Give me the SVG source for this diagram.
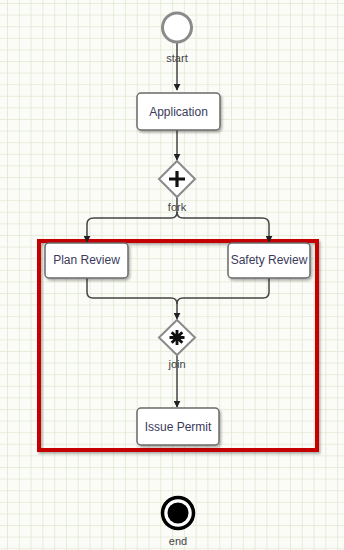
<svg xmlns="http://www.w3.org/2000/svg" width="344" height="550" viewBox="0 0 344 550">
<style>
.node rect{fill:#ffffff;stroke:#6a6a6a;stroke-width:1.5;filter:url(#sh)}
.node text{font-family:"Liberation Sans",Arial,sans-serif;font-size:12px;fill:#3a3a5a;text-anchor:middle}
.lbl{font-family:"Liberation Sans",Arial,sans-serif;font-size:11px;fill:#444;text-anchor:middle}
.conn{fill:none;stroke:#444;stroke-width:1.5}
.gw{fill:#fff;stroke:#8a8a8a;stroke-width:2}
</style>
<defs>
<pattern id="grid" patternUnits="userSpaceOnUse" x="7" y="3" width="11.79" height="11.6">
<rect width="11.79" height="11.6" fill="#fbfcf7"/>
<path d="M0 0V11.6M0 0H11.79" stroke="#e1e8d2" stroke-width="1.6" fill="none"/>
</pattern>
<marker id="arr" viewBox="0 0 10 10" refX="9" refY="5" markerWidth="7" markerHeight="7" markerUnits="userSpaceOnUse" orient="auto">
<path d="M0 0L10 5L0 10z" fill="#222"/>
</marker>
<filter id="sh" x="-20%" y="-20%" width="140%" height="150%">
<feDropShadow dx="1.5" dy="2" stdDeviation="1.2" flood-color="#000" flood-opacity="0.3"/>
</filter>
</defs>
<rect width="344" height="550" fill="#fbfcf7"/>
<rect x="0" y="0" width="344" height="550" fill="url(#grid)"/>

<g id="pool">
<rect x="39" y="241" width="278" height="209" fill="none" stroke="#c40000" stroke-width="4" filter="url(#sh)"/>
</g>

<g id="connectors">
<path class="conn" d="M177 43V90" marker-end="url(#arr)"/>
<path class="conn" d="M177 130V160" marker-end="url(#arr)"/>
<path class="conn" d="M177 197V212Q177 218 171 218H94Q87 218 87 224V242" marker-end="url(#arr)"/>
<path class="conn" d="M177 212Q177 218 183 218H262Q269 218 269 224V242" marker-end="url(#arr)"/>
<path class="conn" d="M87 278V292Q87 298 93 298H171Q177 298 177 304V319" marker-end="url(#arr)"/>
<path class="conn" d="M269 278V292Q269 298 263 298H183Q177 298 177 304"/>
<path class="conn" d="M177 354V407" marker-end="url(#arr)"/>
</g>

<g id="start">
<circle cx="177" cy="27.5" r="14.5" fill="#fff" stroke="#8a8a8a" stroke-width="3"/>
<text class="lbl" x="177" y="62">start</text>
</g>

<g id="application" class="node">
<rect x="137" y="93" width="83" height="37" rx="4"/>
<text x="178.5" y="115.5">Application</text>
</g>

<g id="fork">
<path class="gw" d="M177 161L195 179L177 197L159 179Z"/>
<path d="M177 171V187M169 179H185" stroke="#111" stroke-width="3.2"/>
<text class="lbl" x="177" y="211">fork</text>
</g>

<g id="planReview" class="node">
<rect x="45" y="243" width="83" height="35" rx="4"/>
<text x="86.5" y="264">Plan Review</text>
</g>

<g id="safetyReview" class="node">
<rect x="228" y="243" width="82" height="35" rx="4"/>
<text x="269" y="264">Safety Review</text>
</g>

<g id="join">
<path class="gw" d="M177 320L195 337.5L177 355L159 337.5Z"/>
<path d="M177 330V345M169.5 337.5H184.5M171.7 332.2L182.3 342.8M182.3 332.2L171.7 342.8" stroke="#111" stroke-width="2.8"/>
<text class="lbl" x="177" y="368">join</text>
</g>

<g id="issuePermit" class="node">
<rect x="137" y="408" width="82" height="37" rx="4"/>
<text x="178" y="431">Issue Permit</text>
</g>

<g id="end">
<circle cx="178" cy="513" r="15.5" fill="#fff" stroke="#000" stroke-width="3.5"/>
<circle cx="178" cy="513" r="10.5" fill="#000"/>
<text class="lbl" x="178" y="545">end</text>
</g>
</svg>
